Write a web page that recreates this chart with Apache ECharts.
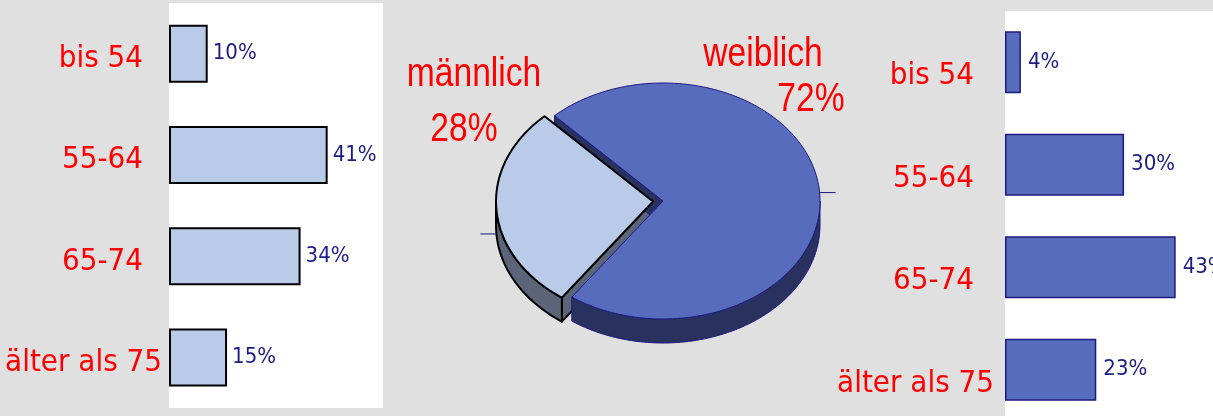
<!DOCTYPE html>
<html>
<head>
<meta charset="utf-8">
<script src="https://cdn.jsdelivr.net/npm/echarts@6/dist/echarts.min.js"></script>
<style>
html, body { margin: 0; padding: 0; background: #e0e0e0; }
#main { width: 1213px; height: 416px; }
</style>
</head>
<body>
<div id="main"></div>
<script>
// Altersgruppen und Anteile (in %)
var ageGroups = ['bis 54', '55-64', '65-74', 'älter als 75'];
var maleShares = [10, 41, 34, 15];
var femaleShares = [4, 30, 43, 23];
// Geschlechterverteilung
var genderNames = ['männlich', 'weiblich'];
var genderShares = [28, 72];

var FONT = '"Liberation Sans Narrow", "DejaVu Sans Condensed", "Liberation Sans", Arial, sans-serif';
var PIE_FONT = '"Liberation Sans", Arial, sans-serif';
var RED = '#ff0000';
var NAVY = '#1c1c84';

// Achsenbeschriftung: letzte Kategorie sitzt weiter rechts
function catLabel(v, idx) {
    return (idx === ageGroups.length - 1 ? '{w|' : '{n|') + v + '}';
}
function richFor(shift, padRight) {
    var base = { fontSize: 31, color: RED, fontFamily: FONT };
    return {
        n: Object.assign({ padding: [shift, padRight, 0, 0] }, base),
        w: Object.assign({ padding: [shift, 0, 0, 0] }, base)
    };
}

// 3D-Kreis (Ellipse mit Tiefe)
var PIE = { cx: 663, cy: 201, rx: 157, ry: 118, depth: 24, start: 125.5 };
var pieStyle = [
    { top: '#b9cbe8', side: '#5b6577', stroke: '#000', lw: 2, explode: 10,
      name: [474, 75], pct: [464, 130] },
    { top: '#586cbd', side: '#29325f', stroke: '#1a1a80', lw: 1, explode: 0,
      name: [763, 55], pct: [811, 100] }
];

function renderPie(params, api) {
    var i = params.dataIndex;
    var total = genderShares.reduce(function (a, b) { return a + b; }, 0);
    var before = 0;
    for (var k = 0; k < i; k++) before += genderShares[k];
    var s = (PIE.start + before / total * 360) * Math.PI / 180;
    var e = s + api.value(0) / total * 2 * Math.PI;
    var mid = (s + e) / 2;
    var st = pieStyle[i];
    var cx = PIE.cx + st.explode * Math.cos(mid);
    var cy = PIE.cy + st.explode * Math.sin(mid) * PIE.ry / PIE.rx;
    function pt(a, dy) {
        return [cx + PIE.rx * Math.cos(a), cy + PIE.ry * Math.sin(a) + (dy || 0)];
    }
    function arc(a1, a2, dy) {
        var pts = [], n = Math.max(2, Math.ceil(Math.abs(a2 - a1) / (Math.PI / 120)));
        for (var j = 0; j <= n; j++) pts.push(pt(a1 + (a2 - a1) * j / n, dy));
        return pts;
    }
    var D = PIE.depth;
    var children = [];
    var sideZ = 1 + i;
    var lineStyle = { fill: st.side, stroke: st.stroke, lineWidth: st.lw, lineJoin: 'round' };

    // Schnittflächen
    if (Math.cos(s) < 0) {
        var p = pt(s);
        children.push({ type: 'polygon', z2: sideZ,
            shape: { points: [[cx, cy], p, [p[0], p[1] + D], [cx, cy + D]] }, style: lineStyle });
    }
    if (Math.cos(e) > 0) {
        var q = pt(e);
        children.push({ type: 'polygon', z2: sideZ,
            shape: { points: [[cx, cy], q, [q[0], q[1] + D], [cx, cy + D]] }, style: lineStyle });
    }
    // Mantel (nur vordere Hälfte)
    for (var m = -1; m <= 2; m++) {
        var a1 = Math.max(s, 2 * Math.PI * m), a2 = Math.min(e, 2 * Math.PI * m + Math.PI);
        if (a2 > a1) {
            var pts = arc(a1, a2, 0).concat(arc(a2, a1, D));
            children.push({ type: 'polygon', z2: sideZ, shape: { points: pts }, style: lineStyle });
        }
    }
    // Deckfläche
    children.push({ type: 'polygon', z2: 5,
        shape: { points: [[cx, cy]].concat(arc(s, e, 0)) },
        style: { fill: st.top, stroke: st.stroke, lineWidth: st.lw, lineJoin: 'round' } });

    // kleiner Strich am Rand
    var tp = pt(mid, Math.sin(mid) > 0 ? D : 0);
    var dir = Math.cos(mid) > 0 ? 1 : -1;
    children.push({ type: 'line', z2: 6,
        shape: { x1: tp[0], y1: tp[1], x2: tp[0] + dir * 16, y2: tp[1] },
        style: { stroke: '#1a1a80', lineWidth: 1 } });

    // Beschriftung (schmal gestaucht)
    var txt = function (t, pos) {
        return { type: 'text', z2: 7, x: pos[0], y: pos[1], scaleX: 0.82,
            style: { text: t, x: 0, y: 0, fill: RED, fontSize: 41, fontFamily: PIE_FONT,
                     align: 'center', verticalAlign: 'middle' } };
    };
    children.push(txt(genderNames[i], st.name));
    children.push(txt(api.value(0) + '%', st.pct));

    return { type: 'group', children: children };
}

var myChart = echarts.init(document.getElementById('main'));
myChart.setOption({
    backgroundColor: '#e0e0e0',
    animation: false,
    grid: [
        { left: 169, top: 3, width: 214, height: 405, show: true, backgroundColor: '#fff',
          borderWidth: 0, outerBoundsMode: 'none', containLabel: false },
        { left: 1005, top: 11, width: 208, height: 410, show: true, backgroundColor: '#fff',
          borderWidth: 0, outerBoundsMode: 'none', containLabel: false }
    ],
    xAxis: [
        { gridIndex: 0, type: 'value', min: 0, max: 55.3, show: false },
        { gridIndex: 1, type: 'value', min: 0, max: 52.4, show: false }
    ],
    yAxis: [
        { gridIndex: 0, type: 'category', data: ageGroups, inverse: true,
          axisLine: { show: false }, axisTick: { show: false }, splitLine: { show: false },
          axisLabel: { margin: 7, formatter: catLabel, rich: richFor(11, 19) } },
        { gridIndex: 1, type: 'category', data: ageGroups, inverse: true,
          axisLine: { show: false }, axisTick: { show: false }, splitLine: { show: false },
          axisLabel: { margin: 11, formatter: catLabel, rich: richFor(28, 20) } }
    ],
    series: [
        { name: 'männlich', type: 'bar', xAxisIndex: 0, yAxisIndex: 0, data: maleShares,
          barWidth: 58,
          itemStyle: { color: '#b9cbe8', borderColor: '#000', borderWidth: 2 },
          label: { show: true, position: 'right', distance: 5, formatter: '{c}%',
                   color: NAVY, fontSize: 22, fontFamily: FONT } },
        { name: 'weiblich', type: 'bar', xAxisIndex: 1, yAxisIndex: 1, data: femaleShares,
          barWidth: 62,
          itemStyle: { color: '#586cbd', borderColor: '#1a1a80', borderWidth: 1.5 },
          label: { show: true, position: 'right', distance: 7, formatter: '{c}%',
                   color: NAVY, fontSize: 22, fontFamily: FONT } },
        { name: 'Geschlecht', type: 'custom', coordinateSystem: 'none',
          renderItem: renderPie, data: genderShares }
    ]
});
</script>
</body>
</html>
